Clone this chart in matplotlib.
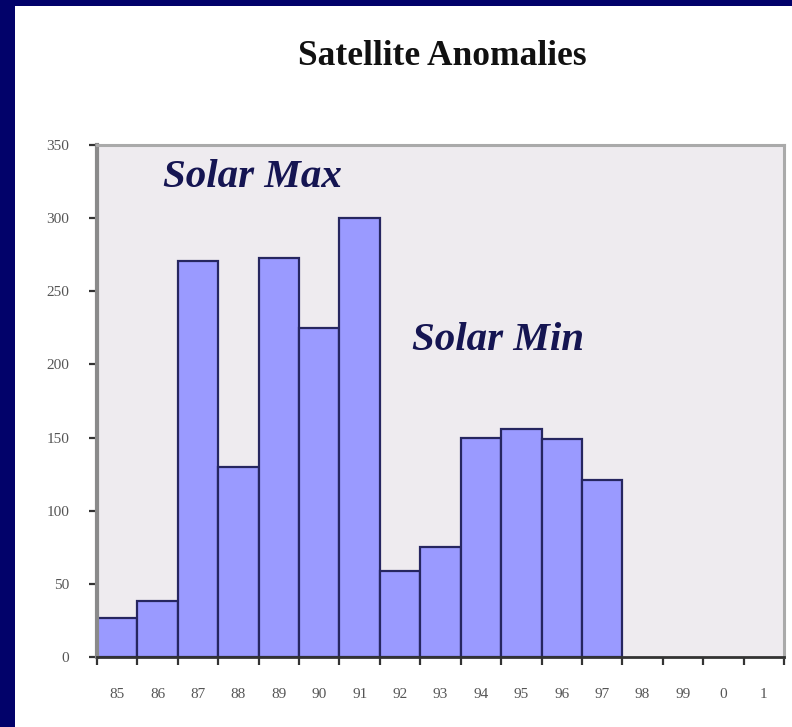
#!/usr/bin/env python3

import matplotlib.pyplot as plt
from matplotlib.patches import Rectangle
from matplotlib.ticker import FixedLocator

NAVY = '#02026a'
TEXT_NAVY = '#151552'

years = ['85', '86', '87', '88', '89', '90', '91', '92', '93',
         '94', '95', '96', '97', '98', '99', '0', '1']
anomalies = [27, 38, 271, 130, 273, 225, 300, 59, 75,
             150, 156, 149, 121]
y_ticks = [0, 50, 100, 150, 200, 250, 300, 350]

fig = plt.figure(figsize=(7.92, 7.27), dpi=100)
fig.patch.set_facecolor('white')

# navy frame on the left and top edge
fig.add_artist(Rectangle((0, 0), 15 / 792, 1, transform=fig.transFigure,
                         facecolor=NAVY, edgecolor='none'))
fig.add_artist(Rectangle((0, 1 - 6 / 727), 1, 6 / 727,
                         transform=fig.transFigure,
                         facecolor=NAVY, edgecolor='none'))

fig.text(0.559, 0.922, 'Satellite Anomalies', ha='center', va='center',
         family='Liberation Serif', weight='bold', fontsize=25.5,
         color='#111111')

ax = fig.add_axes((97 / 792, 70 / 727, 687 / 792, 512 / 727))
ax.set_facecolor('#eeebef')

x = list(range(len(anomalies)))
ax.bar(x, anomalies, width=1.0, color='#9a9aff', edgecolor='#262660',
       linewidth=1.6, zorder=2)

ax.set_xlim(-0.5, len(years) - 0.5)
ax.set_ylim(0, 350)

# ticks at bin edges, labels at bin centres
ax.xaxis.set_major_locator(FixedLocator([i - 0.5 for i in range(len(years) + 1)]))
ax.xaxis.set_major_formatter(plt.NullFormatter())
ax.set_xticks(list(range(len(years))), labels=years, minor=True)
ax.tick_params(axis='x', which='major', direction='out', length=6,
               width=1.6, color='#333333')
ax.tick_params(axis='x', which='minor', length=0, pad=22)

ax.set_yticks(y_ticks)
ax.tick_params(axis='y', direction='out', length=6, width=1.6,
               color='#333333', pad=14)

for lab in ax.get_xticklabels(minor=True) + ax.get_yticklabels():
    lab.set_family('Liberation Serif')
    lab.set_fontsize(11)
    lab.set_color('#555555')

ax.spines['left'].set_color('#8a8a8a')
ax.spines['left'].set_linewidth(3)
ax.spines['top'].set_color('#aaaaaa')
ax.spines['top'].set_linewidth(2.2)
ax.spines['right'].set_color('#aaaaaa')
ax.spines['right'].set_linewidth(2.2)
ax.spines['bottom'].set_color('#333333')
ax.spines['bottom'].set_linewidth(2)
ax.spines['bottom'].set_zorder(3)

ax.text(1.13, 321, 'Solar Max', family='Liberation Serif', weight='bold',
        style='italic', fontsize=29.5, color=TEXT_NAVY, va='baseline')
ax.text(7.3, 210, 'Solar Min', family='Liberation Serif', weight='bold',
        style='italic', fontsize=29.5, color=TEXT_NAVY, va='baseline')

fig.savefig('out.png', dpi=100)
